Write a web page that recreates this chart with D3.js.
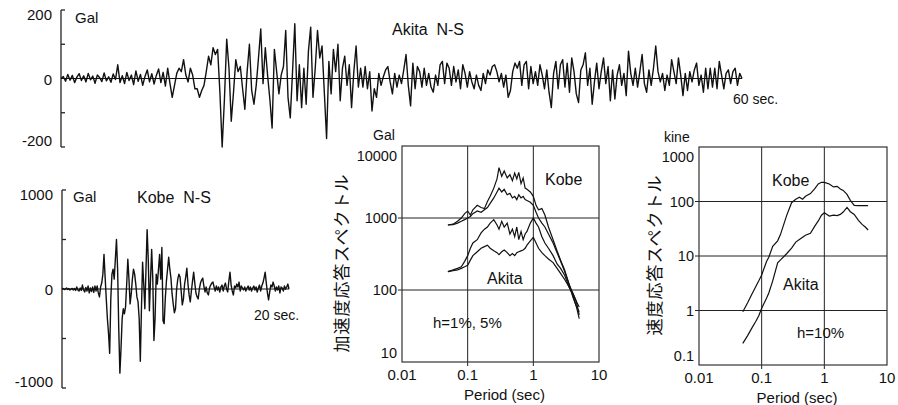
<!DOCTYPE html>
<meta charset="utf-8">
<style>
body { margin:0; background:#fff; }
svg { display:block; }
text { font-family: "Liberation Sans", Arial, sans-serif; fill:#111; }
.jp { font-family: "Noto Sans CJK JP", sans-serif; }
</style>
<body>
<svg width="898" height="405" id="vis"></svg>
<script src="https://cdnjs.cloudflare.com/ajax/libs/d3/7.8.5/d3.min.js"></script>
<script>
// ---- accelerograms (Gal), sampled every dtAkita / dtKobe seconds ----
var dtAkita = 0.2;
var akitaNS = [
  0, 6, -8, 12, -5, 9, -12, 4, 14, -6, 8, -10, 15, -4, 7, -14, 10, 3, -9, 16, -7, 5, -11, 13, -3,
  40, -12, 8, -15, 18, -6, 10, -18, 22, -8, 12, -20, 6, 25, -10, 14, -16, 9, 28, -12, 18, -22, 30, -14, -55,
  -20, 15, 30, 20, 55, 10, -10, 30, 10, -30, -30, -55, -35, -20, 20, 65, 40, 90, 70, 85, -40, -200, -60, 115, 30,
  -125, -40, 55, 20, 35, -30, -90, 20, 100, -35, -75, -20, 60, 145, -15, 90, 10, -60, -145, 85, 20, -45, 10, 35, 140,
  -55, -115, 20, 160, -65, 40, -85, 30, -75, 80, 150, -55, 30, 140, 60, 95, -40, -175, 50, -45, 85, 20, 100, -65, 30,
  65, -20, 40, -85, 20, 95, -25, 30, -25, 35, -30, 20, -95, -30, -55, 15, -20, 5, 25, 35, -10, -45, 15, -25, 10,
  -15, 25, 70, -20, -80, 45, -30, 35, 20, -25, 30, -20, 15, -25, -40, 10, -20, 40, 50, -15, 45, 30, -20, 35, -10,
  25, -30, 40, 15, -25, 20, -10, -30, 10, -20, -35, 15, -15, 25, 10, 35, 40, 20, -10, 15, -25, 10, -55, -35, 20,
  45, 30, 50, -20, 40, 50, -30, 35, -15, 20, -20, 40, 10, -30, 25, -40, -85, 15, 50, -30, 40, 55, -25, 45, -40,
  60, 20, -45, -70, 25, 40, 75, -20, 30, -75, -10, 45, -30, 20, 60, -15, 35, -65, 25, -60, 10, 40, -20, 15, -50,
  80, 15, -20, 30, -25, 20, 70, -15, -40, 25, -20, 30, 95, 20, -10, 15, -35, 10, -20, 55, 20, -15, 60, 10, -50,
  15, -35, 20, -10, 25, 45, -20, 10, -40, 30, -30, 30, -25, 30, -30, 50, 10, -30, 15, 25, -15, 20, 30, -20, 15,
  0
];

var dtKobe = 0.1;
var kobeNS = [
  0, 5, -5, 0, 10, -5, 5, -10, 0, 5,
  -10, 5, -15, 20, -10, -20, 10, -15, 40, -10,
  -30, 15, -20, 30, -40, 10, -25, 20, -35, 30,
  -20, 30, -40, -80, 20, 60, 150, 350, 120, -100,
  -300, -450, -650, -100, 150, 200, 100, 300, 500, 200,
  -400, -850, -600, -300, -200, -250, -180, 50, 300, 100,
  -150, -50, 100, 200, 150, 50, -80, -130, -300, -730,
  -200, 270, 50, -200, 200, 600, 300, -220, 100, 400,
  100, -520, -300, 150, 50, 200, 350, 100, 420, -320,
  -350, -100, 80, 200, 320, 200, 110, -50, -150, -240,
  -200, 0, 100, 150, 120, -20, -160, -100, 50, 120,
  210, 50, -60, -130, -20, 80, 170, 60, -40, -80,
  -100, 0, 60, 90, 110, 30, -30, 20, -40, -60,
  10, 40, 60, 70, 20, -20, 30, -10, 20, -30,
  20, 40, -20, 30, 60, 0, -30, 80, 170, 40,
  -20, -60, 30, 10, 50, 20, 70, -20, 30, 10,
  -10, 20, -20, 10, 30, -10, 20, -20, 10, 30,
  -10, 20, -30, 10, 40, -20, 30, 60, 110, 170,
  60, -40, -110, -30, 40, 20, 70, 30, -20, 20,
  -10, 30, -40, 20, 10, -20, 30, 0, 20, 50,
  0
];

// ---- acceleration response spectra (Gal) ----
var accPeriods = [0.05,0.06,0.07,0.08,0.09,0.1,0.11,0.12,0.14,0.16,0.18,0.2,0.22,0.25,0.28,0.3,0.33,0.36,0.4,0.44,0.48,
  0.52,0.56,0.6,0.65,0.7,0.75,0.8,0.9,1.0,1.1,1.2,1.35,1.5,1.7,2.0,2.3,2.6,3.0,3.5,4.0,4.5,5.0];
var accKobe1 = [800,820,900,1000,1150,1250,1100,1300,1500,1400,1350,1700,2000,2600,3500,5000,3800,4500,3600,4000,3300,
  4200,3500,4300,3000,3600,2600,2500,2300,2000,1500,1300,1350,1100,750,500,350,260,190,120,90,70,45];
var accKobe5 = [800,810,850,900,950,1000,1050,1150,1250,1200,1300,1400,1600,1900,2300,2600,2300,2500,2100,2200,1900,
  2000,1800,2100,1900,2000,1800,1750,1650,1500,1200,1000,850,750,600,450,330,250,180,120,80,60,40];
var accAkita1 = [180,190,200,210,250,300,380,450,500,620,700,750,850,950,800,700,900,750,850,600,700,
  550,750,500,650,500,600,650,850,1000,850,750,550,450,380,300,230,200,160,110,85,60,50];
var accAkita5 = [180,185,190,200,210,220,260,300,340,380,400,420,380,350,330,310,340,360,330,300,320,
  300,330,340,350,360,380,420,480,540,450,380,330,300,270,240,200,170,140,110,90,70,58];

// ---- velocity response spectra (kine), h=10% ----
var velPeriods = [0.05,0.06,0.07,0.08,0.09,0.1,0.12,0.13,0.15,0.18,0.2,0.25,0.3,0.35,0.4,0.45,0.5,0.6,0.7,0.8,0.9,
  1.0,1.2,1.4,1.6,1.8,2.0,2.3,2.6,3.0,3.5,4.0,4.5,5.0];
var velKobe = [0.95,1.4,2.0,2.7,3.5,4.5,8,9.5,15,19,25,55,95,110,120,110,125,140,170,210,225,
  225,210,185,190,170,160,135,105,85,84,84,84,84];
var velAkita = [0.25,0.35,0.48,0.62,0.8,1.1,1.7,2.1,3.5,7.5,8.5,11,14,18,20,22,24,26,35,44,56,
  62,54,56,55,58,64,78,65,58,45,38,34,30];

// ---- tick labels ----
var akitaTicks = [-200, -100, 0, 100, 200];
var akitaLabels = ["-200", "0", "200"];
var kobeTicks = [-1000, -500, 0, 500, 1000];
var kobeLabels = ["-1000", "0", "1000"];
var periodTicks = [0.01, 0.1, 1, 10];
var periodLabels = ["0.01", "0.1", "1", "10"];
var accTicks = [10, 100, 1000, 10000];
var accLabels = ["10", "100", "1000", "10000"];
var velTicks = [0.1, 1, 10, 100, 1000];
var velLabels = ["0.1", "1", "10", "100", "1000"];

var svg = d3.select("svg");

function seismogram(data, dt, tMax, xr, yDom, yr, ticks, labels) {
  var x = d3.scaleLinear().domain([0, tMax]).range(xr);
  var y = d3.scaleLinear().domain(yDom).range(yr);
  var g = svg.append("g");
  // bracket axis
  g.append("line").attr("x1", xr[0]).attr("x2", xr[0]).attr("y1", y(yDom[0])).attr("y2", y(yDom[1]))
    .attr("stroke", "#222").attr("stroke-width", 1.3);
  g.selectAll(".tk").data(ticks).enter().append("line")
    .attr("x1", xr[0]).attr("x2", function(d) { return d == 0 ? xr[0] : xr[0] + 4; })
    .attr("y1", function(d) { return y(d); }).attr("y2", function(d) { return y(d); })
    .attr("stroke", "#222").attr("stroke-width", 1.3);
  // zero line
  g.append("line").attr("x1", xr[0]).attr("x2", xr[1]).attr("y1", y(0)).attr("y2", y(0))
    .attr("stroke", "#111").attr("stroke-width", 1);
  var lv = [yDom[0], 0, yDom[1]];
  g.selectAll(".lb").data(lv).enter().append("text")
    .attr("x", xr[0] - 9)
    .attr("y", function(d, i) { return y(d) + (i == 0 ? -1 : i == 2 ? 10 : 6); })
    .attr("text-anchor", "end").style("font-size", "15px")
    .text(function(d, i) { return labels[i]; });
  var line = d3.line().x(function(d, i) { return x(i * dt); }).y(function(d) { return y(d); });
  g.append("path").datum(data).attr("d", line)
    .attr("fill", "none").attr("stroke", "#111").attr("stroke-width", 1.4).attr("stroke-linejoin", "round");
  return g;
}

var gA = seismogram(akitaNS, dtAkita, 60, [61, 742], [-200, 200], [147, 10], akitaTicks, akitaLabels);
gA.append("text").attr("x", 75).attr("y", 23).style("font-size", "15px").text("Gal");
gA.append("text").attr("x", 392).attr("y", 35).style("font-size", "16px").style("white-space", "pre").text("Akita  N-S");
gA.append("text").attr("x", 733).attr("y", 104).style("font-size", "14px").text("60 sec.");

var gK = seismogram(kobeNS, dtKobe, 20, [62, 289], [-1000, 1000], [388, 190], kobeTicks, kobeLabels);
gK.append("text").attr("x", 73).attr("y", 202).style("font-size", "15px").text("Gal");
gK.append("text").attr("x", 137).attr("y", 203).style("font-size", "16px").style("white-space", "pre").text("Kobe  N-S");
gK.append("text").attr("x", 254).attr("y", 320).style("font-size", "14px").text("20 sec.");

function spectrum(xr, yDom, yr, yTicks, yLabels, series) {
  var x = d3.scaleLog().domain([0.01, 10]).range(xr);
  var y = d3.scaleLog().domain(yDom).range(yr);
  var g = svg.append("g");
  // grid
  g.selectAll(".gx").data(periodTicks.slice(1, -1)).enter().append("line")
    .attr("x1", function(d) { return x(d); }).attr("x2", function(d) { return x(d); })
    .attr("y1", yr[0] + 4).attr("y2", yr[1]).attr("stroke", "#222").attr("stroke-width", 1);
  g.selectAll(".gy").data(yTicks.slice(1, -1)).enter().append("line")
    .attr("x1", xr[0] - 4).attr("x2", xr[1])
    .attr("y1", function(d) { return y(d); }).attr("y2", function(d) { return y(d); })
    .attr("stroke", "#222").attr("stroke-width", 1);
  g.append("rect").attr("x", xr[0]).attr("y", yr[1]).attr("width", xr[1] - xr[0]).attr("height", yr[0] - yr[1])
    .attr("fill", "none").attr("stroke", "#333").attr("stroke-width", 1.2);
  g.selectAll(".xl").data(periodTicks).enter().append("text")
    .attr("x", function(d) { return x(d); }).attr("y", yr[0] + 18)
    .attr("text-anchor", "middle").style("font-size", "15px")
    .text(function(d, i) { return periodLabels[i]; });
  var n = yTicks.length;
  g.selectAll(".yl").data(yTicks).enter().append("text")
    .attr("x", xr[0] - 5)
    .attr("y", function(d, i) { return y(d) + (i == 0 ? -4 : i == n - 1 ? 15 : 5); })
    .attr("text-anchor", "end").style("font-size", "14.5px")
    .text(function(d, i) { return yLabels[i]; });
  g.append("text").attr("x", (xr[0] + xr[1]) / 2 + 4).attr("y", yr[0] + 38)
    .attr("text-anchor", "middle").style("font-size", "15px").text("Period (sec)");
  var line = d3.line().x(function(d) { return x(d[0]); }).y(function(d) { return y(d[1]); });
  series.forEach(function(s) {
    g.append("path").datum(d3.zip(s.t, s.v)).attr("d", line)
      .attr("fill", "none").attr("stroke", "#111").attr("stroke-width", 1.2);
  });
  return g;
}

var gS = spectrum([402, 599], [10, 10000], [362, 146], accTicks, accLabels, [
  { t: accPeriods, v: accKobe1 }, { t: accPeriods, v: accKobe5 },
  { t: accPeriods, v: accAkita1 }, { t: accPeriods, v: accAkita5 }
]);
gS.append("text").attr("x", 373).attr("y", 140).style("font-size", "14px").text("Gal");
gS.append("text").attr("x", 545).attr("y", 185).style("font-size", "16px").text("Kobe");
gS.append("text").attr("x", 487).attr("y", 284).style("font-size", "16px").text("Akita");
gS.append("text").attr("x", 433).attr("y", 328).style("font-size", "15px").text("h=1%, 5%");
gS.append("text").attr("class", "jp").attr("transform", "translate(348,263) rotate(-90)")
  .attr("text-anchor", "middle").style("font-size", "17px").style("letter-spacing", "1px").text("加速度応答スペクトル");

var gV = spectrum([699, 887], [0.1, 1000], [365, 147], velTicks, velLabels, [
  { t: velPeriods, v: velKobe }, { t: velPeriods, v: velAkita }
]);
gV.append("text").attr("x", 664).attr("y", 142).style("font-size", "14px").text("kine");
gV.append("text").attr("x", 772).attr("y", 186).style("font-size", "16px").text("Kobe");
gV.append("text").attr("x", 783).attr("y", 290).style("font-size", "16px").text("Akita");
gV.append("text").attr("x", 797).attr("y", 338).style("font-size", "15px").text("h=10%");
gV.append("text").attr("class", "jp").attr("transform", "translate(661,255) rotate(-90)")
  .attr("text-anchor", "middle").style("font-size", "17px").style("letter-spacing", "1px").text("速度応答スペクトル");
</script>
</body>
